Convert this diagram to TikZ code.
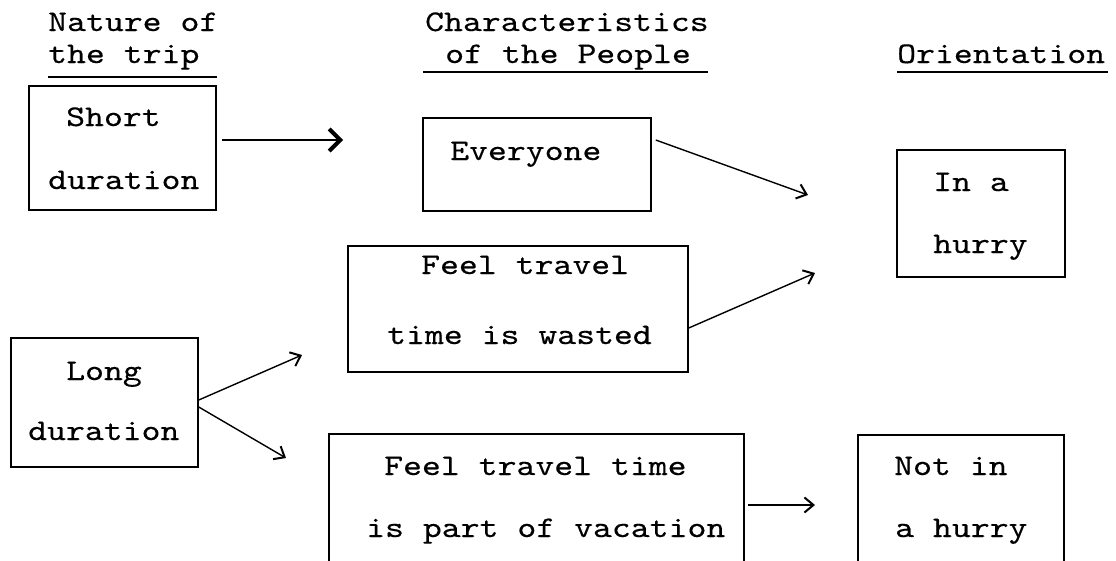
\documentclass[tikz,border=0pt]{standalone}
\usepackage{fontspec}
\newfontfamily\tw{lmmono10-regular.otf}[FakeStretch=1.2,FakeBold=0.3]
\usetikzlibrary{arrows.meta}
\begin{document}
\begin{tikzpicture}[x=1pt,y=-1pt,
  box/.style={draw, line width=1.5pt, inner sep=0pt},
  txt/.style={font=\tw\fontsize{30}{36}\selectfont, anchor=base west, inner sep=0pt},
  uline/.style={line width=1.5pt},
  arr/.style={line width=1.4pt, -{Straight Barb[length=9pt,width=15pt,line width=2pt]}},
  boldarr/.style={line width=1.4pt, -{Straight Barb[length=11pt,width=22pt,line width=4pt]}}]
\clip (0,0) rectangle (1116,560);
\fill[white] (0,0) rectangle (1116,560);

% headers
\node[txt] (h1a) at (48,31) {Nature of};
\node[txt] (h1b) at (48,63) {the trip};
\node[txt] (h2a) at (425,31) {Characteristics};
\node[txt] (h2b) at (445,63) {of the People};
\node[txt] (h3)  at (897,63) {Orientation};
\draw[uline] (48,77) -- (217,77);
\draw[uline] (423,72) -- (708,72);
\draw[uline] (897,72) -- (1108,72);

% boxes
\node[box, minimum width=187pt, minimum height=124pt] (short) at (122.5,148) {};
\node[box, minimum width=228pt, minimum height=93pt] (every) at (537,164.5) {};
\node[box, minimum width=168pt, minimum height=127pt] (hurry) at (981,213.5) {};
\node[box, minimum width=340pt, minimum height=126pt] (wasted) at (518,309) {};
\node[box, minimum width=187pt, minimum height=129pt] (long) at (104.5,402.5) {};
\node[box, minimum width=415pt, minimum height=166pt] (vac) at (536.5,517) {};
\node[box, minimum width=206pt, minimum height=165pt] (notb) at (961,517.5) {};

% box texts
\node[txt] (t1a) at (66,126) {Short};
\node[txt] (t1b) at (48,189) {duration};
\node[txt] (t2) at (450,160) {Everyone};
\node[txt] (t3a) at (933,191) {In a};
\node[txt] (t3b) at (933,253) {hurry};
\node[txt] (t4a) at (421,274) {Feel travel};
\node[txt] (t4b) at (387,344) {time is wasted};
\node[txt] (t5a) at (66,380) {Long};
\node[txt] (t5b) at (28,440) {duration};
\node[txt] (t6a) at (384,475) {Feel travel time};
\node[txt] (t6b) at (366,537) {is part of vacation};
\node[txt] (t7a) at (894,475) {Not in};
\node[txt] (t7b) at (895,537) {a hurry};

% arrow ends
\coordinate (e1) at (343,140);
\coordinate (e2) at (808,195);
\coordinate (e3) at (815,273);
\coordinate (e4) at (302,355);
\coordinate (e5) at (286,458);
\coordinate (e6) at (815,505);

\draw[boldarr] ([xshift=5pt,yshift=8pt]short.east) -- (e1);
\draw[arr] ([xshift=4pt,yshift=24.5pt]every.east) -- (e2);
\draw[arr] ([yshift=-19pt]wasted.east) -- (e3);
\draw[arr] ([yshift=2.5pt]long.east) -- (e4);
\draw[arr] ([yshift=-4.5pt]long.east) -- (e5);
\draw[arr] ([xshift=3pt,yshift=12pt]vac.east) -- (e6);
\end{tikzpicture}
\end{document}
